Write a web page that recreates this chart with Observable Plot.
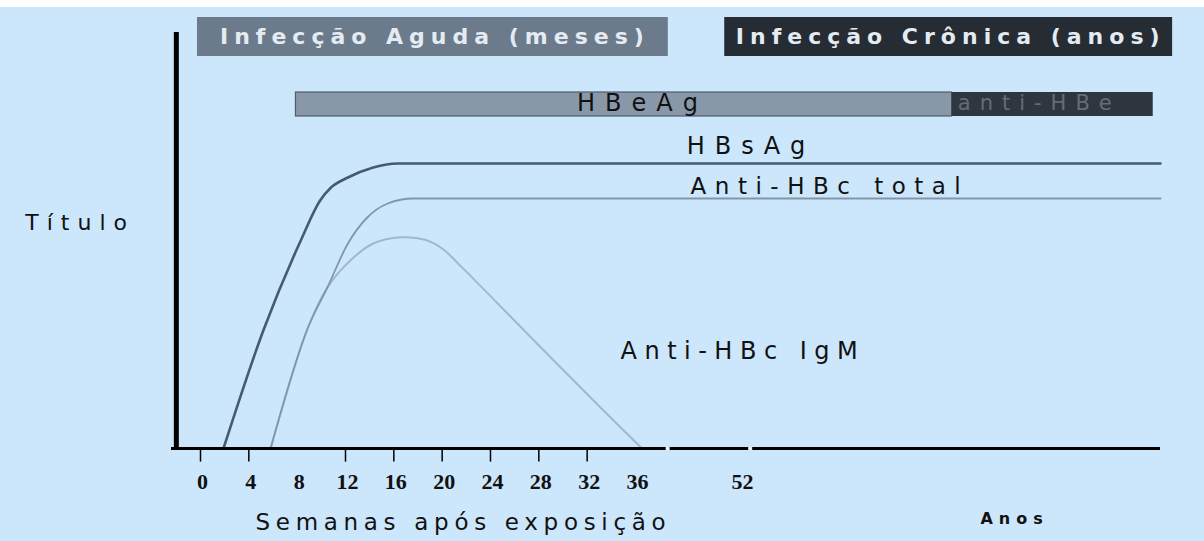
<!DOCTYPE html>
<html><head><meta charset="utf-8">
<script src="https://cdn.jsdelivr.net/npm/d3@7"></script>
<script src="https://cdn.jsdelivr.net/npm/@observablehq/plot@0.6"></script>
<style>
html,body{margin:0;padding:0;background:#cce6fb;overflow:hidden;}
#chart{position:absolute;left:0;top:0;}
#topstrip{position:absolute;left:0;top:0;width:1204px;height:7px;background:#fff;}
</style></head>
<body><div id="chart"></div><div id="topstrip"></div>
<script>
// Phases (header boxes), in weeks
const phaseLabels = ["Infecção Aguda (meses)", "Infecção Crônica (anos)"];
const phaseStart = [-0.25, 49.6];
const phaseEnd = [41, 105.5];

// HBeAg / anti-HBe bar, in weeks
const markerLabels = ["HBeAg", "anti-HBe"];
const markerStart = [7.9, 78.2];
const markerEnd = [78.2, 103.1];

// Curves: weeks after exposure vs. titer (arbitrary units)
const hbsagWeek  = [1.9, 5.2, 8.3, 9.9, 10.8, 12.2, 14.3, 16.3, 104];
const hbsagTiter = [0, 29.5, 52, 62, 65.25, 67.75, 70.25, 71.25, 71.25];

const totalWeek  = [5.8, 8.9, 10.5, 12.2, 13.8, 15.5, 17.6, 104];
const totalTiter = [0, 30.25, 40.25, 51.25, 57.75, 61.25, 62.5, 62.5];

const igmWeek  = [5.8, 8.9, 10.5, 12.4, 14.3, 16.6, 18.6, 20.0, 21.6, 27.6, 33.1, 37];
const igmTiter = [0, 30.25, 40.25, 47, 51.25, 52.8, 52.2, 50.0, 45.4, 27, 10.25, 0];

// Axis ticks
const tickLabels = [0, 4, 8, 12, 16, 20, 24, 28, 32, 36, 52];
const tickMarks = [0, 4, 12, 16, 20, 24, 28, 32];
const axisBreaks = [40.9, 53.2];

// broken time axis: weeks -> compressed axis units (weeks 36-52 and beyond are squeezed)
const bx = d3.scaleLinear().domain([0, 36, 52, 104]).range([0, 36, 44.69, 79.45]);

const toRows = (xs, ys) => xs.map((x, i) => ({week: x, titer: ys[i]}));
const hbsag = toRows(hbsagWeek, hbsagTiter);
const total = toRows(totalWeek, totalTiter);
const igm = toRows(igmWeek, igmTiter);
const phases = phaseLabels.map((l, i) => ({label: l, from: phaseStart[i], to: phaseEnd[i]}));
const markers = markerLabels.map((l, i) => ({label: l, from: markerStart[i], to: markerEnd[i]}));

const bg = "#cce6fb";
const sans = "DejaVu Sans, sans-serif";
const X = d => bx(d.week);

const chart = Plot.plot({
  width: 1204, height: 541,
  marginTop: 0, marginRight: 0, marginBottom: 0, marginLeft: 0,
  style: {background: "transparent", overflow: "visible"},
  x: {domain: [0, 79.45], range: [200, 1160], axis: null},
  y: {domain: [0, 100], range: [448, 48], axis: null},
  marks: [
    // header boxes
    Plot.rect([phases[0]], {x1: d => bx(d.from), x2: d => bx(d.to), y1: 98, y2: 107.75, fill: "#6b7b8c"}),
    Plot.rect([phases[1]], {x1: d => bx(d.from), x2: d => bx(d.to), y1: 98, y2: 107.75, fill: "#262c33"}),
    Plot.text(phases, {x: d => (bx(d.from) + bx(d.to)) / 2, y: 102.9, dx: 2, text: "label", fill: "#e4ebf2",
      fontSize: 22, fontWeight: "bold", fontFamily: sans}),
    // HBeAg / anti-HBe bar
    Plot.rect([markers[0]], {x1: d => bx(d.from), x2: d => bx(d.to), y1: 83, y2: 89, fill: "#8898a9", stroke: "#4e5d6e", strokeWidth: 1.2}),
    Plot.rect([markers[1]], {x1: d => bx(d.from), x2: d => bx(d.to), y1: 83, y2: 89, fill: "#2f363e"}),
    Plot.text([markers[0]], {x: () => bx(36.3), y: 86.2, dx: 5, text: "label", fill: "#111", fontSize: 24, fontFamily: sans}),
    Plot.text([markers[1]], {x: () => bx(78.9), y: 86.2, text: "label", fill: "#646d77", fontSize: 21, fontFamily: sans, textAnchor: "start"}),
    // curves
    Plot.line(igm, {x: X, y: "titer", stroke: "#a3b7ca", strokeWidth: 2, curve: "catmull-rom"}),
    Plot.line(total, {x: X, y: "titer", stroke: "#8196ab", strokeWidth: 1.8, curve: "monotone-x"}),
    Plot.line(hbsag, {x: X, y: "titer", stroke: "#475a6f", strokeWidth: 2.6, curve: "monotone-x"}),
    // curve labels
    Plot.text(["HBsAg"], {x: () => bx(43.8), y: 75.6, text: d => d, textAnchor: "start", fill: "#111", fontSize: 24, fontFamily: sans}),
    Plot.text(["Anti-HBc total"], {x: () => bx(44.4), y: 65.4, text: d => d, textAnchor: "start", fill: "#111", fontSize: 23, fontFamily: sans}),
    Plot.text(["Anti-HBc IgM"], {x: () => bx(34.76), y: 24.4, text: d => d, textAnchor: "start", fill: "#111", fontSize: 24, fontFamily: sans}),
    Plot.text(["Título"], {x: () => bx(-14.5), y: 56.4, text: d => d, textAnchor: "start", fill: "#111", fontSize: 22, fontFamily: sans}),
    // axes
    Plot.ruleX([bx(-2)], {y1: -0.5, y2: 104, stroke: "#000", strokeWidth: 5}),
    Plot.ruleY([0], {x1: bx(-2.4), x2: bx(104), stroke: "#000", strokeWidth: 3}),
    Plot.ruleX(axisBreaks, {x: d => bx(d), y1: -0.8, y2: 0.8, stroke: bg, strokeWidth: 4}),
    Plot.dot(axisBreaks, {x: d => bx(d), y: 0, r: 1.3, fill: "#ffffff"}),
    Plot.ruleX(tickMarks, {x: d => bx(d), y1: 0, y2: -3.4, stroke: "#000", strokeWidth: 1.5}),
    Plot.text(tickLabels, {x: d => bx(d), y: -8.3, dx: 2, text: d => String(d), fill: "#111", fontSize: 22,
      fontWeight: "bold", fontFamily: "Liberation Serif, serif"}),
    Plot.text(["Semanas após exposição"], {x: () => bx(4.55), y: -18.5, text: d => d, textAnchor: "start", fill: "#111", fontSize: 23, fontFamily: sans}),
    Plot.text(["Anos"], {x: () => bx(81.7), y: -17.5, text: d => d, textAnchor: "start", fill: "#111", fontSize: 16, fontWeight: "bold", fontFamily: sans})
  ]
});
// letter spacing of the wide, hand-lettered labels
const spacing = {
  "Infecção Aguda (meses)": 6, "Infecção Crônica (anos)": 6,
  "HBeAg": 10, "anti-HBe": 9, "HBsAg": 10, "Anti-HBc total": 8.5,
  "Anti-HBc IgM": 7.5, "Título": 8, "Semanas após exposição": 5.7, "Anos": 6
};
d3.select(chart).selectAll("text").each(function() {
  const s = spacing[this.textContent];
  if (s) this.style.letterSpacing = s + "px";
});
document.getElementById("chart").appendChild(chart);
</script>
</body></html>
